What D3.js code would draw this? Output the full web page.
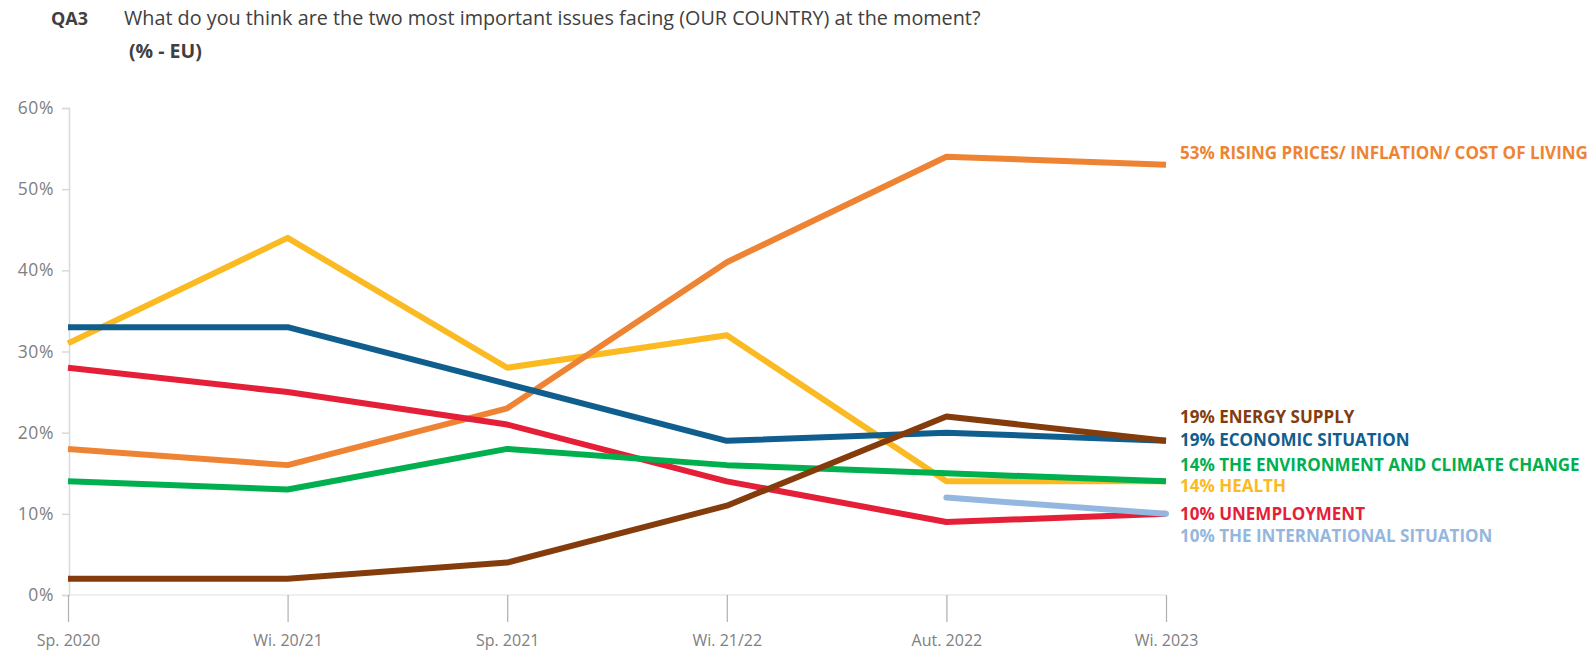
<!DOCTYPE html>
<html>
<head>
<meta charset="utf-8">
<script src="https://cdn.jsdelivr.net/npm/d3@7"></script>
<style>
  html, body { margin: 0; padding: 0; background: #fff; }
  svg { display: block; }
  text { font-family: "Open Sans", "Noto Sans", sans-serif; }
</style>
</head>
<body>
<svg id="chart" width="1593" height="653"></svg>
<script>
const categories = ["Sp. 2020", "Wi. 20/21", "Sp. 2021", "Wi. 21/22", "Aut. 2022", "Wi. 2023"];
const yTicks = [0, 10, 20, 30, 40, 50, 60];

const health        = [31, 44, 28, 32, 14, 14];
const risingPrices  = [18, 16, 23, 41, 54, 53];
const economic      = [33, 33, 26, 19, 20, 19];
const unemployment  = [28, 25, 21, 14, 9, 10];
const environment   = [14, 13, 18, 16, 15, 14];
const energySupply  = [2, 2, 4, 11, 22, 19];
const international = [null, null, null, null, 12, 10];

const seriesNames = [
  "HEALTH", "RISING PRICES/ INFLATION/ COST OF LIVING", "ECONOMIC SITUATION",
  "UNEMPLOYMENT", "THE ENVIRONMENT AND CLIMATE CHANGE", "ENERGY SUPPLY", "THE INTERNATIONAL SITUATION"
];
const seriesValues = [health, risingPrices, economic, unemployment, environment, energySupply, international];
const seriesColors = ["#FBBA22", "#EE8433", "#0F5E8E", "#E41F37", "#00B04F", "#843C0C", "#94B7E0"];
const labelY = [486, 153, 440, 514, 465, 417, 536];

const svg = d3.select("#chart");

// Title
const title = svg.append("g").attr("fill", "#404040");
title.append("text").attr("x", 51).attr("y", 25).attr("font-weight", "bold").style("font-size", "18px").text("QA3");
title.append("text").attr("x", 124).attr("y", 25).style("font-size", "19.8px")
  .text("What do you think are the two most important issues facing (OUR COUNTRY) at the moment?");
title.append("text").attr("x", 129).attr("y", 58).attr("font-weight", "bold").style("font-size", "19.5px").text("(% - EU)");

const x = d3.scalePoint().domain(categories).range([68, 1166]);
const y = d3.scaleLinear().domain([0, 60]).range([595, 108]);

// zero gridline
svg.append("line")
  .attr("x1", 69).attr("x2", 1166)
  .attr("y1", y(0)).attr("y2", y(0))
  .attr("stroke", "#efefef").attr("stroke-width", 2);

// Y axis
const yAxis = d3.axisLeft(y).tickValues(yTicks).tickFormat(d => d + "%").tickSize(7).tickPadding(8);
const gy = svg.append("g").attr("transform", "translate(69,0)").call(yAxis);
gy.select(".domain").attr("stroke", "#d9d9d9").attr("stroke-width", 1.5);
gy.selectAll(".tick line").attr("stroke", "#d9d9d9").attr("stroke-width", 1.5);
gy.selectAll(".tick text").attr("fill", "#808080").style("font-size", "17.5px")
  .style("font-family", "'Open Sans', sans-serif").attr("letter-spacing", "0.6px");

// X axis (ticks hanging below 0 line)
const xAxis = d3.axisBottom(x).tickSize(27).tickPadding(13);
const gx = svg.append("g").attr("transform", `translate(0,${y(0)})`).call(xAxis);
gx.select(".domain").remove();
gx.selectAll(".tick line").attr("stroke", "#b0b0b0").attr("stroke-width", 1.2);
gx.selectAll(".tick text").attr("fill", "#808080").style("font-size", "16px")
  .style("font-family", "'Open Sans', sans-serif");

// Lines
const line = d3.line()
  .defined(d => d.v !== null)
  .x(d => x(d.c))
  .y(d => y(d.v));

const gLines = svg.append("g");
seriesValues.forEach((vals, i) => {
  const pts = vals.map((v, j) => ({ c: categories[j], v }));
  gLines.append("path")
    .datum(pts)
    .attr("d", line)
    .attr("fill", "none")
    .attr("stroke", seriesColors[i])
    .attr("stroke-width", 6)
    .attr("stroke-linejoin", "round")
    .attr("stroke-linecap", i === 6 ? "round" : "butt");
});

// End labels
const gLabels = svg.append("g").style("font-size", "17px").attr("font-weight", "bold");
seriesValues.forEach((vals, i) => {
  const last = vals[vals.length - 1];
  gLabels.append("text")
    .attr("x", 1180)
    .attr("y", labelY[i])
    .attr("dy", "0.35em")
    .attr("fill", seriesColors[i])
    .text(last + "% " + seriesNames[i]);
});
</script>
</body>
</html>
